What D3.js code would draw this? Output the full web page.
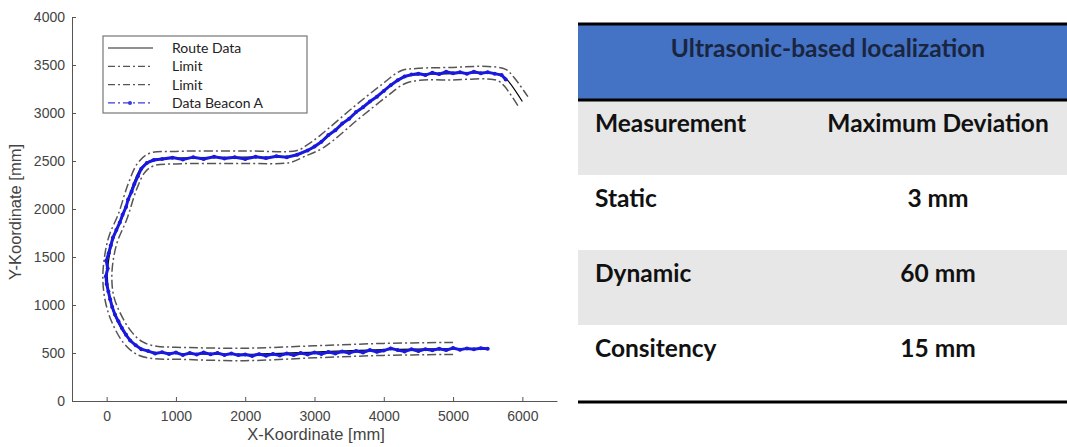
<!DOCTYPE html>
<meta charset="utf-8">
<style>
body { margin: 0; background: #fff; }
.axis path, .axis line { stroke: #555; }
.axis text { fill: #444; font-family: "Liberation Sans", Arial, sans-serif; font-size: 14px; }
.axisLabel { fill: #444; font-family: "Liberation Sans", Arial, sans-serif; font-size: 16.5px; }
.limit { fill: none; stroke: #555; stroke-width: 1.5px; stroke-dasharray: 9,3,2,3; }
.route { fill: none; stroke: #000; stroke-width: 1.2px; }
.beacon { fill: none; stroke: #1a1adc; stroke-width: 3px; }
.legend text { font-family: Lato, sans-serif; font-size: 14px; fill: #222; }
.tbl text { font-family: Lato, sans-serif; font-weight: 700; fill: #111; }
</style>
<body>
<svg width="1067" height="447"></svg>
</body>
<script src="https://cdn.jsdelivr.net/npm/d3@7"></script>
<script>
// route waypoints [x, y] in mm
var route = [[5500,545],[5000,545],[4000,535],[3000,510],[2000,485],[1000,495],[700,505],[480,550],[300,660],
    [130,870],[40,1080],[10,1300],[40,1520],[100,1700],[230,1920],[370,2230],[500,2430],[650,2510],[1000,2530],
    [2000,2540],[2700,2550],[2900,2610],[3100,2700],[3600,3000],[4000,3230],[4270,3370],[4500,3400],[5000,3410],
    [5500,3420],[5700,3395],[5800,3330],[6000,3120]];

var limitOuter = [[5000,485],[4000,475],[3000,450],[2000,420],[1000,435],[700,440],[450,480],[250,600],[70,830],
    [-25,1060],[-55,1300],[-20,1550],[40,1730],[170,1950],[310,2260],[450,2480],[620,2580],[1000,2600],[2000,2605],
    [2750,2610],[2900,2670],[3070,2760],[3560,3060],[3960,3290],[4250,3440],[4500,3465],[5000,3475],[5500,3485],
    [5760,3455],[5880,3370],[6080,3170]];

var limitInner = [[5000,610],[4000,600],[3000,575],[2000,550],[1000,560],[720,570],[520,615],[360,720],[200,910],
    [100,1100],[75,1300],[100,1490],[160,1670],[290,1890],[430,2200],[550,2380],[680,2450],[1000,2470],[2000,2475],
    [2650,2485],[2850,2545],[3130,2640],[3640,2940],[4040,3170],[4300,3305],[4520,3340],[5000,3345],[5500,3355],
    [5650,3335],[5740,3280],[5950,3060]];

// measured positions from beacon A
var beacon = [[5500,545],[5400,550],[5300,540],[5200,548],[5100,535],[5000,552],[4900,530],[4800,545],[4700,528],
    [4600,540],[4500,520],[4400,538],[4300,515],[4200,530],[4100,548],[4000,525],[3900,512],[3800,530],[3700,505],
    [3600,520],[3500,500],[3400,515],[3300,495],[3200,510],[3100,490],[3000,505],[2900,485],[2800,500],[2700,478],
    [2600,495],[2500,475],[2400,490],[2300,472],[2200,488],[2100,470],[2000,485],[1900,478],[1800,495],[1700,480],
    [1600,500],[1500,488],[1400,505],[1300,485],[1200,500],[1100,480],[1000,505],[900,490],[800,508],[700,495],
    [600,520],[500,540],[420,580],[340,630],[280,690],[220,760],[170,830],[120,900],[80,980],[50,1060],[25,1140],
    [0,1220],[-10,1300],[15,1380],[-5,1460],[30,1540],[60,1620],[90,1700],[140,1780],[190,1860],[230,1940],
    [280,2020],[310,2100],[360,2180],[400,2260],[450,2340],[500,2420],[580,2480],[680,2510],[800,2520],[950,2535],
    [1100,2515],[1250,2540],[1400,2520],[1550,2545],[1700,2525],[1850,2540],[2000,2520],[2150,2545],[2300,2530],
    [2450,2550],[2600,2540],[2750,2565],[2900,2610],[3000,2650],[3100,2700],[3200,2770],[3300,2820],[3400,2890],
    [3500,2940],[3600,3010],[3700,3060],[3800,3120],[3900,3170],[4000,3230],[4100,3290],[4200,3340],[4300,3380],
    [4400,3400],[4500,3410],[4600,3395],[4700,3420],[4800,3405],[4900,3430],[5000,3415],[5100,3425],[5200,3410],
    [5300,3430],[5400,3415],[5500,3425],[5600,3410],[5700,3395],[5760,3350]];

var xTicks = [0, 1000, 2000, 3000, 4000, 5000, 6000];
var yTicks = [0, 500, 1000, 1500, 2000, 2500, 3000, 3500, 4000];
var legendLabels = ["Route Data", "Limit", "Limit", "Data Beacon A"];

var tableTitle = "Ultrasonic-based localization";
var tableHead = ["Measurement", "Maximum Deviation"];
var measurements = ["Static", "Dynamic", "Consitency"];
var deviations = ["3 mm", "60 mm", "15 mm"];

var svg = d3.select("svg");

var x = d3.scaleLinear().domain([-500, 6500]).range([72, 557]);
var y = d3.scaleLinear().domain([0, 4000]).range([401, 17]);

svg.append("g")
    .attr("class", "axis")
    .attr("transform", "translate(0,401)")
    .call(d3.axisBottom(x).tickValues(xTicks).tickFormat(d3.format("d")).tickSize(-4).tickSizeOuter(0).tickPadding(10));

svg.append("g")
    .attr("class", "axis")
    .attr("transform", "translate(72,0)")
    .call(d3.axisLeft(y).tickValues(yTicks).tickFormat(d3.format("d")).tickSize(-4).tickSizeOuter(0).tickPadding(7));

svg.append("text").attr("class", "axisLabel")
    .attr("x", 316).attr("y", 440).attr("text-anchor", "middle")
    .text("X-Koordinate [mm]");

svg.append("text").attr("class", "axisLabel")
    .attr("transform", "translate(21,212) rotate(-90)").attr("text-anchor", "middle")
    .text("Y-Koordinate [mm]");

var line = d3.line()
    .curve(d3.curveCatmullRom)
    .x(function(d) { return x(d[0]); })
    .y(function(d) { return y(d[1]); });

svg.append("path").attr("class", "limit").attr("d", line(limitOuter));
svg.append("path").attr("class", "limit").attr("d", line(limitInner));
svg.append("path").attr("class", "route").attr("d", line(route));

var rawLine = d3.line()
    .x(function(d) { return x(d[0]); })
    .y(function(d) { return y(d[1]); });

svg.append("path").attr("class", "beacon").attr("d", rawLine(beacon));
svg.append("g").selectAll("circle")
    .data(beacon)
    .enter().append("circle")
    .attr("cx", function(d) { return x(d[0]); })
    .attr("cy", function(d) { return y(d[1]); })
    .attr("r", 2)
    .attr("fill", "#1a1adc");

// legend
var legend = svg.append("g").attr("class", "legend");
legend.append("rect")
    .attr("x", 103).attr("y", 36).attr("width", 204).attr("height", 77)
    .attr("fill", "#fff").attr("stroke", "#777").attr("stroke-width", 1.2);

var items = legend.selectAll("g.item")
    .data(legendLabels)
    .enter().append("g")
    .attr("class", "item")
    .attr("transform", function(d, i) { return "translate(0," + (48 + i * 18.3) + ")"; });

items.append("line")
    .attr("x1", 108).attr("x2", 153)
    .attr("stroke", function(d, i) { return i == 3 ? "#3a3ae0" : (i == 0 ? "#222" : "#555"); })
    .attr("stroke-width", 1.2)
    .attr("stroke-dasharray", function(d, i) { return i == 0 ? null : "7,3,2,3"; });

items.filter(function(d, i) { return i == 3; })
    .append("circle").attr("cx", 130).attr("cy", 0).attr("r", 2).attr("fill", "#3a3ae0");

items.append("text")
    .attr("x", 172).attr("dy", "0.35em")
    .text(function(d) { return d; });

// table
var tbl = svg.append("g").attr("class", "tbl");
var tx0 = 578, tx1 = 1067;

tbl.append("rect").attr("x", tx0).attr("y", 24).attr("width", tx1 - tx0).attr("height", 76).attr("fill", "#4472c4");
tbl.append("text")
    .attr("x", 828).attr("y", 57).attr("text-anchor", "middle")
    .style("font-size", "24.5px").style("fill", "#1a2540")
    .text(tableTitle);

var rows = [tableHead].concat(measurements.map(function(m, i) { return [m, deviations[i]]; }));
var rowG = tbl.selectAll("g.row")
    .data(rows)
    .enter().append("g")
    .attr("class", "row")
    .attr("transform", function(d, i) { return "translate(0," + (100 + i * 75) + ")"; });

rowG.append("rect")
    .attr("x", tx0).attr("width", tx1 - tx0).attr("height", 75)
    .attr("fill", function(d, i) { return i % 2 == 0 ? "#e7e7e7" : "#fff"; });

rowG.append("text")
    .attr("x", 595).attr("y", 32)
    .style("font-size", "24.5px")
    .text(function(d) { return d[0]; });

rowG.append("text")
    .attr("x", 938).attr("y", 32).attr("text-anchor", "middle")
    .style("font-size", "24.5px")
    .text(function(d) { return d[1]; });

tbl.append("line").attr("x1", tx0).attr("x2", tx1).attr("y1", 24).attr("y2", 24).attr("stroke", "#000").attr("stroke-width", 3);
tbl.append("line").attr("x1", tx0).attr("x2", tx1).attr("y1", 100).attr("y2", 100).attr("stroke", "#000").attr("stroke-width", 3);
tbl.append("line").attr("x1", tx0).attr("x2", tx1).attr("y1", 402).attr("y2", 402).attr("stroke", "#000").attr("stroke-width", 3);
</script>
